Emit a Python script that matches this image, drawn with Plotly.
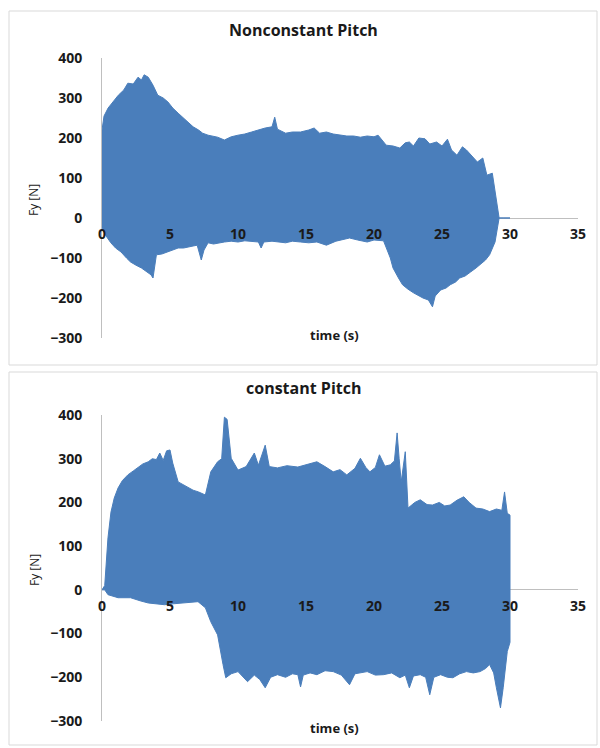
import plotly.graph_objects as go

# ---- Nonconstant pitch: upper / lower envelope of the Fy signal ----
nc_t_upper = [0, 0.15, 0.45, 0.8, 1.2, 1.6, 1.9, 2.3, 2.65, 2.9, 3.1, 3.4, 3.75, 4.1, 4.5,
              4.85, 5.2, 5.6, 6.0, 6.3, 6.7, 7.1, 7.4, 7.8, 8.2, 8.5, 9.0, 9.5, 10.0, 10.5,
              11.0, 11.5, 12.0, 12.5, 12.7, 12.9, 13.5, 14.0, 14.6, 15.2, 15.6, 16.0, 16.5,
              17.0, 17.5, 18.0, 18.5, 19.0, 19.5, 20.0, 20.3, 20.6, 20.9, 21.4, 21.9, 22.3,
              22.6, 22.9, 23.3, 23.75, 24.1, 24.6, 25.0, 25.4, 25.7, 26.1, 26.5, 26.8, 27.2,
              27.6, 28.0, 28.3, 28.7, 29.0, 29.2, 29.5, 30.0]
nc_f_upper = [220, 255, 275, 290, 307, 320, 337, 335, 352, 345, 358, 352, 332, 307, 300,
              290, 275, 262, 250, 240, 228, 220, 212, 207, 205, 202, 195, 203, 207, 210,
              215, 220, 225, 228, 252, 222, 212, 215, 215, 220, 225, 212, 215,
              210, 207, 205, 205, 202, 205, 203, 207, 195, 182, 180, 175, 188,
              190, 180, 200, 198, 185, 190, 180, 197, 170, 157, 178, 170, 155,
              140, 150, 107, 112, 50, 0, 0, 0]
nc_t_lower = [0, 0.3, 0.65, 1.0, 1.4, 1.8, 2.1, 2.5, 2.9, 3.3, 3.6, 3.75, 3.9, 4.0, 4.4,
              4.85, 5.2, 5.6, 6.0, 6.3, 6.7, 7.0, 7.3, 7.5, 7.8, 8.2, 8.5, 9.0, 9.5, 10.0,
              10.5, 11.0, 11.5, 11.7, 11.9, 12.5, 12.9, 13.5, 14.0, 14.6, 15.2, 15.8, 16.5,
              17.2, 18.2, 18.8, 19.5, 20.0, 20.7, 20.9, 21.2, 21.4, 21.8, 22.1, 22.5, 22.9,
              23.3, 23.6, 24.0, 24.3, 24.5, 24.9, 25.3, 25.6, 26.0, 26.3, 26.7, 27.1, 27.5,
              27.8, 28.2, 28.5, 28.9, 29.2, 29.5, 30.0]
nc_f_lower = [-25, -45, -62, -75, -85, -100, -110, -118, -125, -135, -142, -150, -120, -92, -90,
              -85, -80, -75, -75, -72, -70, -68, -105, -80, -62, -65, -62, -60, -58, -60,
              -57, -58, -60, -75, -60, -58, -60, -62, -58, -60, -62, -60, -68,
              -58, -50, -55, -60, -55, -57, -75, -100, -125, -150, -167, -178, -187,
              -195, -200, -205, -222, -195, -180, -175, -167, -160, -150, -145, -135, -125,
              -117, -105, -92, -60, 0, 0, 0]

# ---- Constant pitch: upper / lower envelope of the Fy signal ----
cp_t_upper = [0.0, 0.2, 0.44, 0.66, 0.9, 1.18, 1.5, 1.9, 2.3, 2.65, 3.0, 3.4, 3.7, 4.0, 4.25,
              4.5, 4.75, 5.0, 5.2, 5.6, 6.0, 6.3, 6.7, 7.1, 7.6, 8.0, 8.5, 8.8, 9.0, 9.2,
              9.5, 10.0, 10.6, 11.2, 11.5, 12.0, 12.3, 12.9, 13.6, 14.4, 15.0, 15.8, 16.4,
              17.0, 17.5, 18.0, 18.6, 19.0, 19.4, 19.7, 20.1, 20.4, 20.8, 21.2, 21.5, 21.7,
              21.85, 22.0, 22.3, 22.5, 23.0, 23.4, 23.9, 24.3, 24.8, 25.2, 25.6, 26.1, 26.6,
              27.0, 27.5, 28.0, 28.5, 29.0, 29.4, 29.6, 29.8, 30.0]
cp_f_upper = [0, 10, 119, 178, 210, 233, 250, 263, 272, 281, 288, 293, 300, 298, 313,
              296, 318, 320, 290, 247, 240, 235, 228, 224, 217, 270, 293, 300, 395, 390,
              301, 274, 282, 313, 285, 331, 282, 279, 284, 281, 286, 293, 282,
              270, 275, 263, 278, 301, 280, 270, 280, 309, 283, 286, 295, 359,
              300, 247, 316, 187, 200, 206, 195, 194, 200, 192, 194, 205, 213,
              200, 187, 185, 179, 185, 182, 224, 175, 171]
cp_t_lower = [0.0, 0.2, 0.44, 1.18, 2.1, 2.8, 3.4, 4.0, 4.6, 5.2, 5.8, 6.5, 7.06, 7.6, 8.0,
              8.5, 8.7, 8.9, 9.1, 9.5, 10.0, 10.4, 10.7, 11.2, 11.6, 12.0, 12.4, 12.9, 13.5,
              14.0, 14.4, 14.6, 14.8, 15.3, 15.8, 16.4, 17.0, 17.6, 18.2, 18.6, 19.0, 19.5,
              20.1, 20.7, 21.3, 21.9, 22.3, 22.6, 22.9, 23.4, 23.8, 24.1, 24.4, 24.9, 25.4,
              25.8, 26.3, 26.8, 27.3, 27.8, 28.2, 28.5, 28.8, 29.0, 29.3, 29.5, 29.8, 30.0]
cp_f_lower = [0, 0, -11, -18, -18, -25, -30, -32, -34, -32, -30, -28, -27, -41, -73,
              -103, -140, -171, -201, -192, -187, -200, -210, -195, -205, -224, -200, -194, -200,
              -192, -194, -222, -195, -190, -194, -185, -187, -195, -217, -192, -190, -187,
              -195, -194, -190, -201, -195, -224, -197, -194, -200, -240, -200, -194, -200,
              -201, -192, -187, -190, -187, -180, -171, -190, -224, -270, -224, -141, -120]

x_ticks = [0, 5, 10, 15, 20, 25, 30, 35]
y_ticks = [-300, -200, -100, 0, 100, 200, 300, 400]

BLUE = "#4a7ebb"
AXIS_GREY = "#bfbfbf"
TEXT = "#1a1a1a"
FONT = "Open Sans"

fig = go.Figure()


def band(t_up, f_up, t_lo, f_lo, xa, ya):
    # closed outline: upper envelope forward, lower envelope backward
    xs = list(t_up) + list(reversed(t_lo))
    ys = list(f_up) + list(reversed(f_lo))
    return go.Scatter(x=xs, y=ys, xaxis=xa, yaxis=ya, mode="lines",
                      fill="toself", fillcolor=BLUE,
                      line=dict(color=BLUE, width=1), hoverinfo="skip",
                      showlegend=False)


fig.add_trace(band(nc_t_upper, nc_f_upper, nc_t_lower, nc_f_lower, "x", "y"))
fig.add_trace(band(cp_t_upper, cp_f_upper, cp_t_lower, cp_f_lower, "x2", "y2"))

W, H = 600, 748
x_dom = [102 / W, 578 / W]
top_dom = [1 - 338 / H, 1 - 58 / H]
bot_dom = [1 - 721 / H, 1 - 415 / H]

tickfont = dict(family=FONT, size=14, color=TEXT, weight="bold")


def xaxis_cfg(zero_px):
    return dict(domain=x_dom, range=[0, 35], anchor="free", position=1 - zero_px / H,
                tickvals=x_ticks, showgrid=False, zeroline=False, showline=False,
                ticks="", tickfont=tickfont, ticklabelstandoff=6, fixedrange=True)


def yaxis_cfg(dom, xa):
    return dict(domain=dom, range=[-300, 400], anchor=xa, tickvals=y_ticks,
                showgrid=False, showline=True, linecolor=AXIS_GREY, linewidth=1,
                zeroline=True, zerolinecolor=AXIS_GREY, zerolinewidth=1,
                ticks="", tickfont=tickfont, ticklabelstandoff=16, fixedrange=True)


fig.update_layout(
    width=W, height=H,
    margin=dict(l=0, r=0, t=0, b=0, autoexpand=False),
    paper_bgcolor="white", plot_bgcolor="white",
    xaxis=xaxis_cfg(218), yaxis=yaxis_cfg(top_dom, "x"),
    xaxis2=xaxis_cfg(590), yaxis2=yaxis_cfg(bot_dom, "x2"),
)

# panel frames
for y0, y1 in [(11, 365), (372, 745)]:
    fig.add_shape(type="rect", xref="paper", yref="paper",
                  x0=9 / W, x1=597 / W, y0=1 - y1 / H, y1=1 - y0 / H,
                  line=dict(color="#d9d9d9", width=1), fillcolor="rgba(0,0,0,0)",
                  layer="below")


def text(s, x_px, y_px, size, bold=True, angle=0):
    fig.add_annotation(text=s, x=x_px / W, y=1 - y_px / H, xref="paper", yref="paper",
                       showarrow=False, textangle=angle, xanchor="center", yanchor="middle",
                       font=dict(family=FONT, size=size, color=TEXT,
                                 weight="bold" if bold else "normal"))


text("Nonconstant Pitch", 303, 30, 16)
text("constant Pitch", 303, 388, 16)
text("time (s)", 334, 335, 13)
text("time (s)", 334, 728, 13)
text("Fy [N]", 34, 200, 12, bold=False, angle=-90)
text("Fy [N]", 34, 570, 12, bold=False, angle=-90)

fig.write_html("out.html")
